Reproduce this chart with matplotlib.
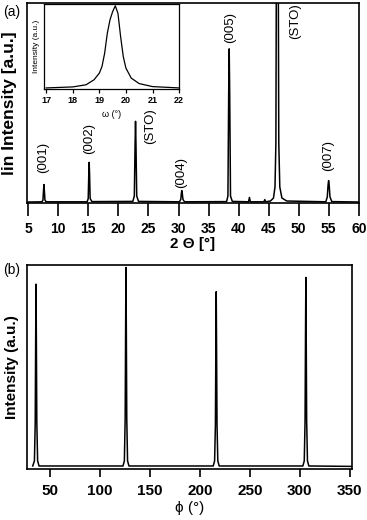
import matplotlib
matplotlib.use('Agg')
import matplotlib.pyplot as plt

plt.rcParams['font.family'] = ['Liberation Sans', 'DejaVu Sans']

# (a) 2-theta scan (intensity in a.u., 1000 = top of frame)
two_theta = [5.0, 7.3, 7.45, 7.55, 7.62, 7.68, 7.78, 7.95, 8.3,
             14.8, 14.98, 15.08, 15.14, 15.2, 15.3, 15.6,
             22.4, 22.65, 22.78, 22.85, 22.92, 23.05, 23.35,
             30.15, 30.38, 30.48, 30.55, 30.62, 30.74, 31.0,
             38.0, 38.22, 38.35, 38.43, 38.51, 38.65, 38.95,
             41.65, 41.8, 41.95,
             44.2, 44.35, 44.5,
             45.3, 45.8, 46.05, 46.2, 46.27, 46.6, 46.68, 46.85, 47.2, 48.0,
             54.5, 54.75, 54.88, 54.97, 55.06, 55.2, 55.5, 60.0]
two_theta_int = [5, 6, 15, 65, 92, 65, 15, 7, 6,
                 6, 22, 150, 203, 150, 22, 7,
                 8, 35, 300, 408, 300, 35, 8,
                 6, 18, 50, 62, 50, 18, 6,
                 7, 35, 560, 770, 560, 35, 8,
                 6, 28, 6,
                 6, 17, 6,
                 10, 25, 80, 300, 1100, 1100, 300, 80, 25, 10,
                 6, 30, 90, 112, 90, 30, 7, 5]

peak_labels = ['(001)', '(002)', '(STO)', '(004)', '(005)', '(STO)', '(007)']
label_x = [7.5, 15.15, 25.35, 30.5, 38.55, 49.35, 54.9]
label_y = [150, 247, 297, 75, 800, 817, 158]

# inset: rocking curve
omega = [17.0, 18.0, 18.5, 18.8, 19.0, 19.1, 19.2, 19.3, 19.4, 19.5, 19.6,
         19.7, 19.8, 19.9, 20.0, 20.2, 20.5, 21.0, 22.0]
omega_int = [0.012, 0.024, 0.05, 0.11, 0.19, 0.27, 0.43, 0.67, 0.83, 0.93, 1.0,
             0.91, 0.63, 0.39, 0.25, 0.13, 0.064, 0.028, 0.012]

# (b) phi scan
phi = [33.0, 34.7, 35.5, 35.95, 36.3, 36.65, 37.1, 37.9, 39.3,
       123.2, 124.6, 125.4, 125.85, 126.2, 126.55, 127.0, 127.8, 129.2,
       213.4, 214.8, 215.6, 216.05, 216.4, 216.75, 217.2, 218.0, 219.4,
       303.0, 304.4, 305.2, 305.65, 306.0, 306.35, 306.8, 307.6, 309.0, 352.0]
phi_int = [15, 40, 227, 635, 907, 635, 227, 40, 15,
           15, 40, 247, 692, 989, 692, 247, 40, 15,
           15, 40, 218, 609, 870, 609, 218, 40, 15,
           15, 40, 235, 658, 940, 658, 235, 40, 15, 13]

fig = plt.figure(figsize=(3.67, 5.2), dpi=100)

# ---- panel (a)
ax1 = fig.add_axes([0.0728, 0.6096, 0.905, 0.385])
ax1.plot(two_theta, two_theta_int, color='black', lw=1.1)
ax1.set_xlim(4.75, 60)
ax1.set_ylim(0, 1000)
ax1.set_yticks([])
ax1.set_xticks(range(5, 61, 5))
ax1.tick_params(axis='x', direction='out', length=9, width=1.2, pad=5, labelsize=10)
for lab in ax1.get_xticklabels():
    lab.set_fontweight('bold')
for s in ax1.spines.values():
    s.set_linewidth(1.2)
ax1.set_xlabel('2 Θ [°]', fontsize=11, fontweight='bold')
ax1.xaxis.set_label_coords(0.5, -0.17)
ax1.set_ylabel('lin Intensity [a.u.]', fontsize=12.5, fontweight='bold')
ax1.yaxis.set_label_coords(-0.029, 0.5)
for txt, x, y in zip(peak_labels, label_x, label_y):
    ax1.text(x, y, txt, rotation=90, ha='center', va='bottom', fontsize=9.5)

# inset
axi = fig.add_axes([0.120, 0.829, 0.368, 0.163])
axi.plot(omega, omega_int, color='black', lw=0.9)
axi.set_xlim(16.92, 22)
axi.set_ylim(0, 1.02)
axi.set_yticks([])
axi.set_xticks(range(17, 23))
axi.tick_params(axis='x', direction='out', length=3, width=0.9, pad=2, labelsize=6.5)
for lab in axi.get_xticklabels():
    lab.set_fontweight('bold')
for s in axi.spines.values():
    s.set_linewidth(0.9)
axi.set_xlabel('ω (°)', fontsize=6.5, labelpad=4)
axi.set_ylabel('Intensity (a.u.)', fontsize=6, labelpad=3)

# ---- panel (b)
ax2 = fig.add_axes([0.0728, 0.098, 0.886, 0.392])
ax2.plot(phi, phi_int, color='black', lw=1.1)
ax2.set_xlim(27, 352)
ax2.set_ylim(0, 1000)
ax2.set_yticks([])
ax2.set_xticks(range(50, 351, 50))
ax2.tick_params(axis='x', direction='out', length=6, width=1.2, pad=5, labelsize=11)
for lab in ax2.get_xticklabels():
    lab.set_fontweight('bold')
for s in ax2.spines.values():
    s.set_linewidth(1.2)
ax2.set_xlabel('ϕ (°)', fontsize=11)
ax2.xaxis.set_label_coords(0.5, -0.155)
ax2.set_ylabel('Intensity (a.u.)', fontsize=11, fontweight='bold')
ax2.yaxis.set_label_coords(-0.025, 0.5)

fig.text(0.008, 0.977, '(a)', fontsize=10, va='center')
fig.text(0.008, 0.481, '(b)', fontsize=10, va='center')

fig.savefig('out.png', dpi=100)
